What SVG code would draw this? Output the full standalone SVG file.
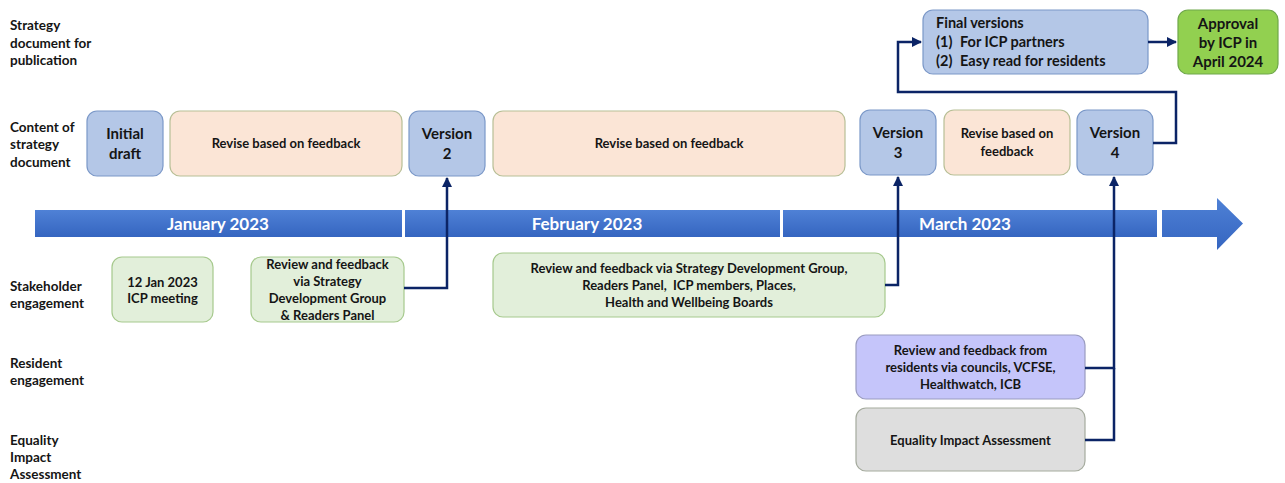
<svg xmlns="http://www.w3.org/2000/svg" width="1285" height="483" viewBox="0 0 1285 483">
<defs>
<linearGradient id="bar" x1="0" y1="0" x2="0" y2="1">
<stop offset="0" stop-color="#4f81d6"/>
<stop offset="1" stop-color="#3565c0"/>
</linearGradient>
<marker id="ah" viewBox="0 0 10 10" refX="9" refY="5" markerWidth="4" markerHeight="4" orient="auto" markerUnits="strokeWidth">
<path d="M0,0 L10,5 L0,10 Z" fill="#0b2466"/>
</marker>
<style>
text{font-family:Lato,"Liberation Sans",sans-serif;font-weight:bold;fill:#151515}
.lab{font-size:13.5px}
.t14{font-size:15px;text-anchor:middle}
.t12{font-size:13px;text-anchor:middle}
.t13{font-size:14.5px}
.tl{font-size:17px;fill:#fff;text-anchor:middle}
.blue{fill:#b4c7e7;stroke:#7b98c8;stroke-width:1.2}
.peach{fill:#fbe5d6;stroke:#b8bf96;stroke-width:1.2}
.green{fill:#e2efda;stroke:#a6c98d;stroke-width:1.2}
.purple{fill:#c5c5fa;stroke:#9a9cc0;stroke-width:1.2}
.grey{fill:#dedede;stroke:#a5ab9e;stroke-width:1.2}
.appr{fill:#92d050;stroke:#6fa84a;stroke-width:1.2}
.conn{fill:none;stroke:#0b2466;stroke-width:2.5}
</style>
</defs>
<g id="row-labels">
<text class="lab" x="10" y="30">Strategy</text>
<text class="lab" x="10" y="47.5">document for</text>
<text class="lab" x="10" y="65">publication</text>
<text class="lab" x="10" y="131.5">Content of</text>
<text class="lab" x="10" y="149">strategy</text>
<text class="lab" x="10" y="166.5">document</text>
<text class="lab" x="10" y="290.5">Stakeholder</text>
<text class="lab" x="10" y="307.5">engagement</text>
<text class="lab" x="10" y="367.5">Resident</text>
<text class="lab" x="10" y="384.5">engagement</text>
<text class="lab" x="10" y="444.5">Equality</text>
<text class="lab" x="10" y="461.5">Impact</text>
<text class="lab" x="10" y="479">Assessment</text>
</g>
<g id="timeline">
<rect x="35" y="210" width="367" height="27" fill="url(#bar)"/>
<rect x="405" y="210" width="375" height="27" fill="url(#bar)"/>
<rect x="783" y="210" width="374" height="27" fill="url(#bar)"/>
<path d="M1162,210 H1217 V198 L1243,223.5 L1217,250 V237 H1162 Z" fill="url(#bar)"/>
<text class="tl" x="218" y="230">January 2023</text>
<text class="tl" x="587" y="230">February 2023</text>
<text class="tl" x="965" y="230">March 2023</text>
</g>
<g id="initial-draft">
<rect class="blue" x="87" y="111" width="76" height="65" rx="10"/>
<text class="t14" x="125" y="138.5">Initial</text>
<text class="t14" x="125" y="158.5">draft</text>
</g>
<g id="revise-1">
<rect class="peach" x="170" y="111" width="232" height="65" rx="10"/>
<text class="t12" x="286" y="148">Revise based on feedback</text>
</g>
<g id="version-2">
<rect class="blue" x="409" y="111" width="76" height="65" rx="10"/>
<text class="t14" x="447" y="138.5">Version</text>
<text class="t14" x="447" y="158.5">2</text>
</g>
<g id="revise-2">
<rect class="peach" x="493" y="111" width="352" height="65" rx="10"/>
<text class="t12" x="669" y="148">Revise based on feedback</text>
</g>
<g id="version-3">
<rect class="blue" x="860" y="110" width="76" height="65" rx="10"/>
<text class="t14" x="898" y="138">Version</text>
<text class="t14" x="898" y="157.5">3</text>
</g>
<g id="revise-3">
<rect class="peach" x="944" y="110" width="126" height="65" rx="10"/>
<text class="t12" x="1007" y="138">Revise based on</text>
<text class="t12" x="1007" y="155.5">feedback</text>
</g>
<g id="version-4">
<rect class="blue" x="1077" y="110" width="76" height="65" rx="10"/>
<text class="t14" x="1115" y="138">Version</text>
<text class="t14" x="1115" y="157.5">4</text>
</g>
<g id="final-versions">
<rect class="blue" x="923" y="10" width="225" height="64" rx="10"/>
<text class="t13" x="936" y="28">Final versions</text>
<text class="t13" x="936" y="47">(1)<tspan x="960">For ICP partners</tspan></text>
<text class="t13" x="936" y="66">(2)<tspan x="960">Easy read for residents</tspan></text>
</g>
<g id="approval">
<rect class="appr" x="1178" y="10" width="100" height="64" rx="10"/>
<text class="t14" x="1228" y="28.5">Approval</text>
<text class="t14" x="1228" y="47.5">by ICP in</text>
<text class="t14" x="1228" y="66.5">April 2024</text>
</g>
<g id="icp-meeting">
<rect class="green" x="112" y="257" width="101" height="65" rx="10"/>
<text class="t12" x="162.5" y="286.5">12 Jan 2023</text>
<text class="t12" x="162.5" y="303">ICP meeting</text>
</g>
<g id="review-sdg">
<rect class="green" x="251" y="257" width="153" height="65" rx="10"/>
<text class="t12" x="327.5" y="268.5">Review and feedback</text>
<text class="t12" x="327.5" y="285.5">via Strategy</text>
<text class="t12" x="327.5" y="302.5">Development Group</text>
<text class="t12" x="327.5" y="319.5">&amp; Readers Panel</text>
</g>
<g id="review-wide">
<rect class="green" x="493" y="253" width="392" height="64" rx="10"/>
<text class="t12" x="689" y="273">Review and feedback via Strategy Development Group,</text>
<text class="t12" x="689" y="290">Readers Panel,&#160; ICP members, Places,</text>
<text class="t12" x="689" y="307">Health and Wellbeing Boards</text>
</g>
<g id="resident-review">
<rect class="purple" x="856" y="335" width="229" height="64" rx="10"/>
<text class="t12" x="970.5" y="355">Review and feedback from</text>
<text class="t12" x="970.5" y="372">residents via councils, VCFSE,</text>
<text class="t12" x="970.5" y="389">Healthwatch, ICB</text>
</g>
<g id="equality">
<rect class="grey" x="856" y="408" width="229" height="63" rx="10"/>
<text class="t12" x="970.5" y="445">Equality Impact Assessment</text>
</g>
<g id="connectors">
<path class="conn" d="M404,288 H447 V178" marker-end="url(#ah)"/>
<path class="conn" d="M885,285 H898 V177" marker-end="url(#ah)"/>
<path class="conn" d="M1085,368 H1114 V177" marker-end="url(#ah)"/>
<path class="conn" d="M1085,440 H1114 V368"/>
<path class="conn" d="M1153,143 H1176 V92 H898 V42 H921" marker-end="url(#ah)"/>
<path class="conn" d="M1148,42 H1176" marker-end="url(#ah)"/>
</g>
</svg>
